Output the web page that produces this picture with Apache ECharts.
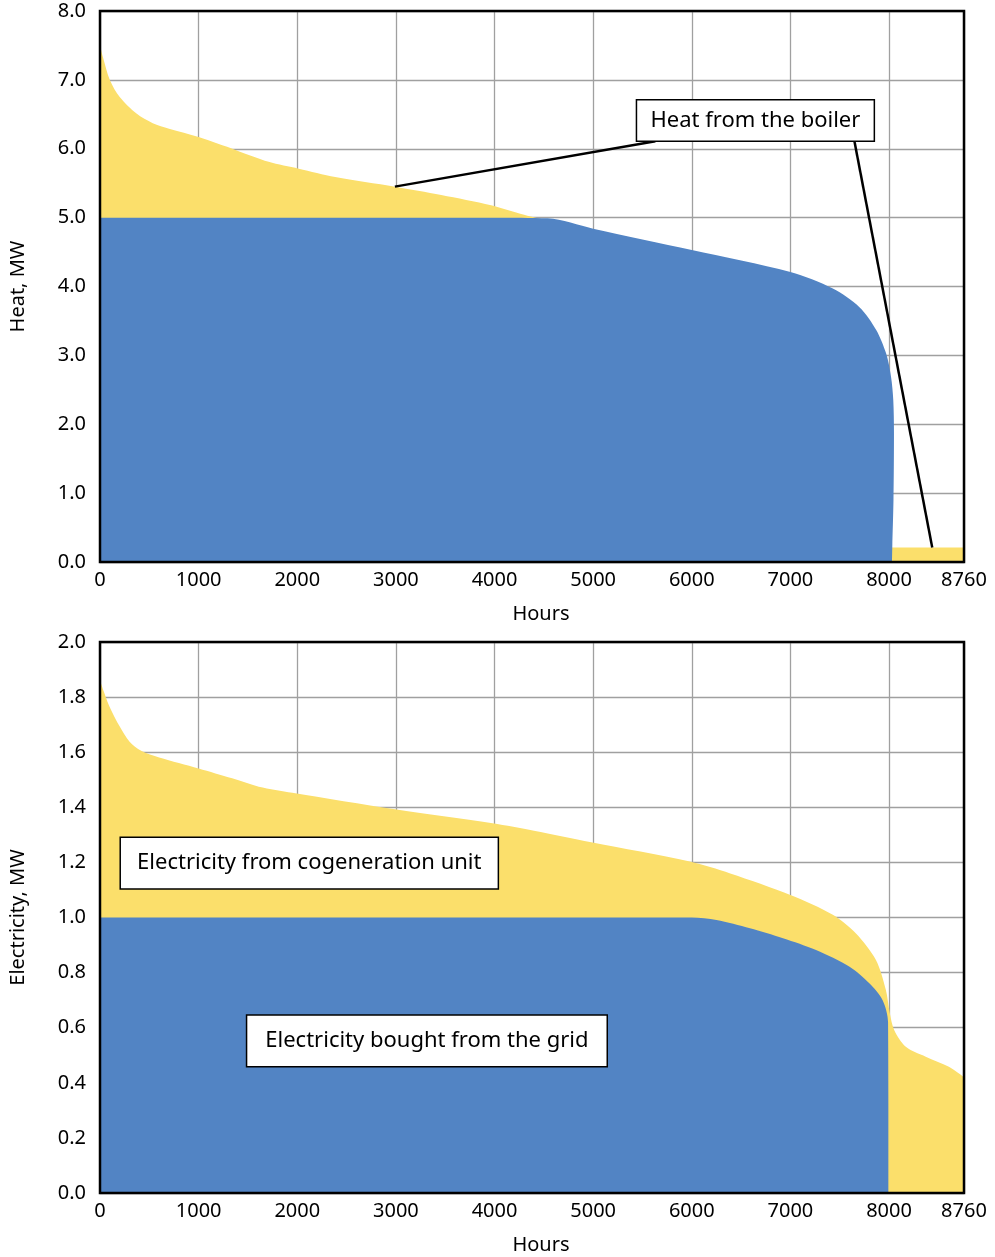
<!DOCTYPE html>
<html><head><meta charset="utf-8">
<script src="https://cdn.jsdelivr.net/npm/echarts@6/dist/echarts.min.js"></script>
<style>html,body{margin:0;padding:0;background:#fff}#c{width:995px;height:1257px}</style>
</head><body><div id="c"></div>
<script>
// ---- Data (hours, MW) ----
const heatTotal = [[0,7.5],[30,7.33],[100,7.0],[200,6.75],[370,6.51],[535,6.37],[700,6.29],[1000,6.17],[1380,5.98],[1710,5.81],[2015,5.71],[2385,5.59],[2990,5.45],[3460,5.33],[3965,5.18],[4300,5.04],[4440,4.99],[4600,4.95]];
const heatCHP = [[0,5.0],[4000,5.0],[4540,4.99],[5000,4.84],[6000,4.53],[7000,4.21],[7430,3.97],[7700,3.70],[7870,3.37],[7970,3.03],[8020,2.69],[8043,2.35],[8050,1.87],[8045,0.9],[8033,0.22],[8030,0]];
const boilerTail = [[8030,0.21],[8760,0.21]];
const elecTotal = [[0,1.86],[97,1.765],[200,1.693],[300,1.638],[417,1.605],[600,1.581],[1000,1.541],[1340,1.505],[1610,1.475],[1950,1.453],[2990,1.393],[3980,1.342],[4400,1.315],[4980,1.273],[5980,1.203],[6390,1.16],[7000,1.082],[7430,1.01],[7665,0.942],[7867,0.846],[7968,0.737],[8008,0.652],[8052,0.592],[8170,0.531],[8372,0.495],[8607,0.458],[8760,0.42]];
const elecGrid = [[0,1.0],[6000,1.0],[6250,0.991],[6590,0.961],[6925,0.925],[7260,0.882],[7600,0.821],[7800,0.761],[7935,0.70],[7990,0.62],[7995,0]];
const xTicks = [0,1000,2000,3000,4000,5000,6000,7000,8000,8760];
const labelsTop = ['Heat from the boiler'];
const labelsBottom = ['Electricity from cogeneration unit','Electricity bought from the grid'];
// annotation anchors (data coordinates)
const boxTop = [[5439,6.71],[7851,6.11]];
const leadersTop = [[[5631,6.11],[2990,5.45]],[[7649,6.11],[8438,0.21]]];
const boxCogen = [[205,1.291],[4039,1.103]];
const boxGrid = [[1486,0.646],[5143,0.458]];

const BLUE = '#5284C4', YELLOW = '#FBDF6B';
const FONT = 'Noto Sans';

function xAxis(gi){
  return {
    type:'value', gridIndex:gi, min:0, max:xTicks[xTicks.length-1], interval:1000,
    name:'Hours', nameLocation:'middle', nameGap:42,
    nameTextStyle:{fontFamily:FONT,fontSize:20,color:'#000',padding:[0,0,0,18]},
    axisLine:{show:false},
    axisTick:{show:false},
    axisLabel:{fontFamily:FONT,fontSize:20,color:'#000',margin:8,showMaxLabel:true,formatter:v=>String(v)},
    splitLine:{show:true,lineStyle:{color:'#a0a0a0',width:1.3}}
  };
}
function yAxis(gi,max,interval,name){
  return {
    type:'value', gridIndex:gi, min:0, max:max, interval:interval,
    name:name, nameLocation:'middle', nameGap:72, nameRotate:90,
    nameTextStyle:{fontFamily:FONT,fontSize:20,color:'#000'},
    axisLine:{show:false},
    axisTick:{show:false},
    axisLabel:{fontFamily:FONT,fontSize:20,color:'#000',margin:14,formatter:v=>v.toFixed(1)},
    splitLine:{show:true,lineStyle:{color:'#a0a0a0',width:1.3}}
  };
}
function area(data,color,xi,extra){
  return Object.assign({
    type:'line', xAxisIndex:xi, yAxisIndex:xi, data:data, showSymbol:false, symbol:'none',
    smooth:0.3, lineStyle:{width:0}, areaStyle:{color:color,opacity:1}, silent:true
  },extra||{});
}
const boxStyle = {color:'#fff',borderColor:'#000',borderWidth:1.5,opacity:1};
const boxLabel = {show:true,position:'inside',fontFamily:FONT,fontSize:22,color:'#000',formatter:'{b}'};

const option = {
  animation:false,
  backgroundColor:'#fff',
  grid:[
    {left:96,right:31,top:11,height:551,show:true,z:10,borderColor:'#000',borderWidth:2.5,backgroundColor:'transparent'},
    {left:96,right:31,top:642,height:551,show:true,z:10,borderColor:'#000',borderWidth:2.5,backgroundColor:'transparent'}
  ],
  xAxis:[xAxis(0),xAxis(1)],
  yAxis:[yAxis(0,8,1,'Heat, MW'),yAxis(1,2,0.2,'Electricity, MW')],
  series:[
    area(heatTotal,YELLOW,0),
    area(boilerTail,YELLOW,0,{smooth:false}),
    area(heatCHP,BLUE,0,{
      markLine:{silent:true,z:20,symbol:['none','none'],label:{show:false},
        lineStyle:{color:'#000',width:2.5,type:'solid'},
        data:leadersTop.map(l=>[{coord:l[0]},{coord:l[1]}])},
      markArea:{silent:true,z:21,itemStyle:boxStyle,label:boxLabel,
        data:[[{name:labelsTop[0],coord:boxTop[0]},{coord:boxTop[1]}]]}
    }),
    area(elecTotal,YELLOW,1),
    area(elecGrid,BLUE,1,{
      markArea:{silent:true,z:21,itemStyle:boxStyle,label:boxLabel,
        data:[[{name:labelsBottom[0],coord:boxCogen[0]},{coord:boxCogen[1]}],
              [{name:labelsBottom[1],coord:boxGrid[0]},{coord:boxGrid[1]}]]}
    })
  ]
};
const chart = echarts.init(document.getElementById('c'),null,{renderer:'canvas'});
chart.setOption(option);
</script>
</body></html>
